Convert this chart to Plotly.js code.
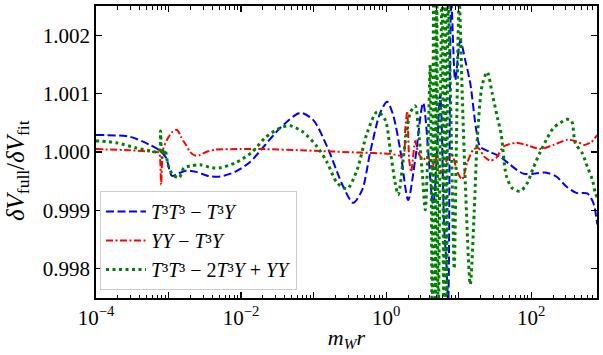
<!DOCTYPE html>
<html>
<head>
<meta charset="utf-8">
<script src="https://cdn.plot.ly/plotly-3.0.1.min.js"></script>
<style>html,body{margin:0;padding:0;background:#fff;}#chart{width:603px;height:355px;}</style>
</head>
<body>
<div id="chart"></div>
<script>
// x = m_W r, y = deltaV_full / deltaV_fit
const blueX = [1.00e-4, 2.944e-4, 5.56e-4, 7.64e-4, 9.25e-4, 1.117e-3, 1.352e-3, 1.742e-3, 2.393e-3, 3.508e-3, 5.13e-3, 8.26e-3, 1.330e-2, 2.143e-2, 3.451e-2, 6.52e-2, 9.84e-2, 0.1535, 0.255, 0.351, 0.467, 0.601, 0.826, 1.033, 1.250, 1.560, 2.009, 2.512, 3.236, 4.446, 5.559, 6.310, 6.730, 7.161, 7.889, 8.954, 10.50, 12.30, 14.42, 17.42, 19.82, 27.16, 37.33, 51.29, 77.62, 113.5, 156.0, 221.3, 304.1, 417.8, 591.6, 716.1, 812.8];
const blueY = [1.00029, 1.00026, 1.00012, 1.00002, 0.99990, 0.99959, 0.99963, 0.99968, 0.99966, 0.99959, 0.99958, 0.99966, 0.99983, 1.00012, 1.00041, 1.00067, 1.00055, 1.00009, 0.99941, 0.99913, 0.99935, 0.99999, 1.00067, 1.00086, 1.00063, 1.00004, 0.99918, 0.99987, 1.00084, 0.99910, 1.00098, 0.99867, 0.99816, 0.99740, 1.00260, 1.00123, 1.00191, 1.00157, 1.00118, 1.00038, 1.00009, 1.00000, 0.99992, 0.99978, 0.99963, 0.99963, 0.99965, 0.99958, 0.99941, 0.99930, 0.99929, 0.99913, 0.99876];

const redX = [1e-4, 2.944e-4, 6.52e-4, 7.40e-4, 7.89e-4, 8.39e-4, 9.53e-4, 1.117e-3, 1.309e-3, 1.486e-3, 1.637e-3, 1.742e-3, 1.982e-3, 2.323e-3, 2.716e-3, 3.289e-3, 4.375e-3, 9.68e-3, 2.143e-2, 6.52e-2, 0.4375, 1.135, 1.714, 1.828, 1.950, 2.075, 2.213, 2.512, 2.761, 3.236, 3.793, 4.305, 4.742, 5.741, 6.934, 8.128, 9.528, 11.17, 13.09, 15.85, 18.58, 22.49, 27.16, 32.89, 41.11, 62.09, 91.0, 133.0, 200.9, 314.1, 404.6, 538.3, 673.0, 812.8];
const redY = [1.00005, 1.00003, 1.00000, 0.99999, 0.99944, 1.00004, 1.00021, 1.00034, 1.00038, 1.00026, 1.00017, 1.00012, 1.00000, 0.99994, 0.99995, 1.00000, 1.00004, 1.00005, 1.00005, 1.00003, 0.99999, 0.99997, 0.99994, 1.00038, 1.00070, 0.99987, 0.99966, 1.00019, 0.99999, 0.99987, 0.99992, 0.99970, 0.99992, 0.99965, 0.99987, 0.99995, 0.99966, 0.99953, 0.99982, 1.00004, 1.00007, 0.99992, 0.99985, 0.99990, 1.00009, 1.00016, 1.00011, 1.00005, 1.00012, 1.00021, 1.00019, 1.00012, 1.00017, 1.00029];

const greenX = [1e-4, 1.888e-4, 3.565e-4, 6.11e-4, 7.40e-4, 7.76e-4, 8.13e-4, 8.95e-4, 9.84e-4, 1.143e-3, 1.396e-3, 1.637e-3, 1.982e-3, 2.716e-3, 3.981e-3, 5.13e-3, 8.53e-3, 1.419e-2, 2.213e-2, 3.451e-2, 4.742e-2, 7.16e-2, 0.1117, 0.1535, 0.2109, 0.2897, 0.3981, 0.5470, 0.7516, 0.9683, 1.135, 1.330, 1.466, 1.828, 2.143, 2.512, 2.761, 3.141, 3.451, 3.793, 4.046, 4.305, 4.519, 4.742, 4.966, 5.212, 5.559, 5.916, 6.209, 6.516, 6.823, 7.161, 8.128, 8.670, 9.247, 10.16, 11.17, 12.30, 14.42, 16.37, 17.99, 21.09, 24.72, 28.97, 33.96, 38.55, 45.19, 54.70, 70.47, 88.10, 106.7, 133.0, 166.3, 200.9, 251.2, 304.1, 345.1, 368.1, 404.6, 504.7, 591.6, 693.4, 764.0, 812.8];
const greenY = [1.00019, 1.00016, 1.00007, 1.00001, 1.00000, 1.00036, 0.99990, 1.00004, 0.99978, 0.99961, 0.99956, 0.99973, 0.99976, 0.99978, 0.99973, 0.99973, 0.99982, 1.00000, 1.00026, 1.00041, 1.00045, 1.00034, 1.00009, 0.99982, 0.99947, 0.99937, 0.99970, 1.00033, 1.00069, 1.00055, 1.00004, 0.99947, 0.99927, 1.00016, 1.00067, 1.00079, 1.00043, 0.99965, 0.99901, 1.00021, 1.00149, 0.99700, 1.00300, 0.99700, 1.00300, 0.99700, 1.00050, 1.00300, 0.99700, 1.00300, 0.99700, 1.00260, 0.99950, 0.99800, 1.00000, 1.00260, 1.00100, 0.99950, 0.99773, 0.99900, 1.00020, 1.00115, 1.00137, 1.00100, 1.00060, 1.00030, 0.99960, 0.99938, 0.99933, 0.99947, 0.99973, 1.00000, 1.00024, 1.00041, 1.00050, 1.00056, 1.00055, 1.00050, 1.00015, 0.99998, 0.99975, 0.99953, 0.99930, 0.99922];

const seriesNames = [
  '<i>T</i>³<i>T</i>³ − <i>T</i>³<i>Y</i>',
  '<i>YY</i> − <i>T</i>³<i>Y</i>',
  '<i>T</i>³<i>T</i>³ − 2<i>T</i>³<i>Y</i> + <i>YY</i>'
];
const xMajorTicks = [1e-4, 1e-3, 1e-2, 1e-1, 1, 10, 100];
const xMajorText = ['10<sup>−4</sup>', '', '10<sup>−2</sup>', '', '10<sup>0</sup>', '', '10<sup>2</sup>'];
const yTicks = [0.998, 0.999, 1.000, 1.001, 1.002];
const yTickText = ['0.998', '0.999', '1.000', '1.001', '1.002'];
const xTitle = '<i>m</i><sub><i>W</i></sub><i>r</i>';
const yTitle = '<i>δV</i><sub>full</sub>/<i>δV</i><sub>fit</sub>';

const minorTicks = [];
for (let e = -4; e <= 2; e++) {
  for (let m = 2; m <= 9; m++) minorTicks.push(m * Math.pow(10, e));
}

const FONT = '"Liberation Serif", serif';

const traces = [
  {x: blueX, y: blueY, name: seriesNames[0], mode: 'lines',
   line: {color: '#0000ff', width: 2, dash: '8px,3.5px', shape: 'spline', smoothing: 0.8}},
  {x: redX, y: redY, name: seriesNames[1], mode: 'lines',
   line: {color: '#ff0000', width: 2, dash: '7px,2.5px,2px,2.5px', shape: 'spline', smoothing: 0.6}},
  {x: greenX, y: greenY, name: seriesNames[2], mode: 'lines',
   line: {color: '#008000', width: 3, dash: '3px,3.5px', shape: 'spline', smoothing: 0.8}}
];

const layout = {
  width: 603, height: 355,
  margin: {l: 96, r: 6, t: 6, b: 57},
  paper_bgcolor: '#fff', plot_bgcolor: '#fff',
  font: {family: FONT, size: 21, color: '#000'},
  showlegend: true,
  legend: {x: 0.008, y: 0.027, xanchor: 'left', yanchor: 'bottom',
    bgcolor: 'rgba(255,255,255,0.85)', bordercolor: '#cccccc', borderwidth: 1,
    font: {family: FONT, size: 20}, itemwidth: 40, tracegroupgap: 0},
  xaxis: {
    type: 'log', range: [-4, 2.906],
    tickmode: 'array', tickvals: xMajorTicks, ticktext: xMajorText,
    ticks: 'inside', ticklen: 6, tickwidth: 1.2, tickcolor: '#000',
    minor: {tickmode: 'array', tickvals: minorTicks, ticks: 'inside', ticklen: 3.5, tickwidth: 1, tickcolor: '#000', showgrid: false},
    showline: true, linecolor: '#000', linewidth: 1.8, mirror: 'ticks',
    showgrid: false, zeroline: false,
    tickfont: {family: FONT, size: 21},
    title: {text: xTitle, font: {family: FONT, size: 22}, standoff: 0}
  },
  yaxis: {
    range: [0.9975, 1.0025],
    tickmode: 'array', tickvals: yTicks, ticktext: yTickText,
    ticks: 'inside', ticklen: 6, tickwidth: 1.2, tickcolor: '#000',
    showline: true, linecolor: '#000', linewidth: 1.8, mirror: 'ticks',
    showgrid: false, zeroline: false,
    tickfont: {family: FONT, size: 21}
  },
  annotations: [{
    text: yTitle, xref: 'paper', yref: 'paper', x: -0.1577, y: 0.438,
    xanchor: 'center', yanchor: 'middle', textangle: -90, showarrow: false,
    font: {family: FONT, size: 25, color: '#000'}
  }]
};

Plotly.newPlot('chart', traces, layout, {staticPlot: true, displayModeBar: false});
</script>
</body>
</html>
